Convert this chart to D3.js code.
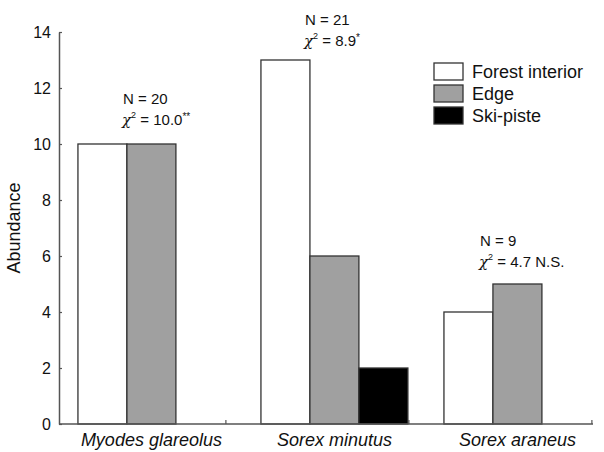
<!DOCTYPE html>
<html>
<head>
<meta charset="utf-8">
<script src="https://cdn.jsdelivr.net/npm/d3@7"></script>
<style>
  body { margin: 0; background: #fff; }
  svg { display: block; font-family: Arial, "Liberation Sans", sans-serif; }
</style>
</head>
<body>
<svg width="604" height="452"></svg>
<script>
// data
var species = ["Myodes glareolus", "Sorex minutus", "Sorex araneus"];
var habitats = ["Forest interior", "Edge", "Ski-piste"];
var forestInterior = [10, 13, 4];
var edge = [10, 6, 5];
var skiPiste = [0, 2, 0];
var nLabels = ["N = 20", "N = 21", "N = 9"];
var chiValues = ["10.0", "8.9", "4.7"];
var chiMarks = ["**", "*", " N.S."];
var yTicks = [0, 2, 4, 6, 8, 10, 12, 14];

var colors = { "Forest interior": "#ffffff", "Edge": "#a0a0a0", "Ski-piste": "#000000" };

var svg = d3.select("svg");

var x0 = 59, x1 = 593, yTop = 32, yBot = 424;

var y = d3.scaleLinear().domain([0, 14]).range([yBot, yTop]);

var x = d3.scaleBand()
    .domain(species)
    .range([x0, x1])
    .paddingInner(0.197)
    .paddingOuter(0.0575)
    .align(0.9);

var xSub = d3.scaleBand()
    .domain(habitats)
    .range([0, x.bandwidth()]);

// build rows from the arrays
var rows = species.map(function(s, i) {
  return {
    species: s,
    values: [
      { key: "Forest interior", value: forestInterior[i] },
      { key: "Edge", value: edge[i] },
      { key: "Ski-piste", value: skiPiste[i] }
    ]
  };
});

//////////// BARS ////////////
var groups = svg.append("g").selectAll("g")
  .data(rows)
  .enter().append("g")
    .attr("transform", function(d) { return "translate(" + x(d.species) + ",0)"; });

groups.selectAll("rect")
  .data(function(d) { return d.values.filter(function(v) { return v.value > 0; }); })
  .enter().append("rect")
    .attr("x", function(d) { return xSub(d.key); })
    .attr("y", function(d) { return y(d.value); })
    .attr("width", xSub.bandwidth())
    .attr("height", function(d) { return y(0) - y(d.value); })
    .attr("fill", function(d) { return colors[d.key]; })
    .attr("stroke", "#333")
    .attr("stroke-width", 1.3);

//////////// AXES ////////////
var yAxis = d3.axisLeft(y)
    .tickValues(yTicks)
    .tickSizeInner(-3)
    .tickSizeOuter(0)
    .tickPadding(8);

var gy = svg.append("g")
    .attr("transform", "translate(" + x0 + ",0)")
    .call(yAxis);
gy.select(".domain").attr("stroke", "#555").attr("stroke-width", 1.5);
gy.selectAll(".tick line").attr("stroke", "#555").attr("stroke-width", 1.2);
gy.selectAll(".tick text")
    .attr("font-size", 16)
    .attr("fill", "#111")
    .attr("font-family", "Arial, 'Liberation Sans', sans-serif");

// x axis baseline
svg.append("line")
    .attr("x1", x0).attr("x2", x1)
    .attr("y1", y(0)).attr("y2", y(0))
    .attr("stroke", "#555")
    .attr("stroke-width", 1.5);

// group boundary ticks (point up)
svg.append("g").selectAll("line")
  .data(species)
  .enter().append("line")
    .attr("x1", function(d) { return x(d) + x.bandwidth() + 1; })
    .attr("x2", function(d) { return x(d) + x.bandwidth() + 1; })
    .attr("y1", y(0))
    .attr("y2", y(0) - 4)
    .attr("stroke", "#555")
    .attr("stroke-width", 1.2);

// category labels
svg.append("g").selectAll("text")
  .data(species)
  .enter().append("text")
    .attr("x", function(d) { return x(d) + x.bandwidth() / 2; })
    .attr("y", 446)
    .attr("text-anchor", "middle")
    .attr("font-size", 18)
    .attr("font-style", "italic")
    .attr("fill", "#111")
    .text(function(d) { return d; });

// y title
svg.append("text")
    .attr("transform", "translate(20," + ((yTop + yBot) / 2) + ") rotate(-90)")
    .attr("text-anchor", "middle")
    .attr("font-size", 18)
    .attr("fill", "#111")
    .text("Abundance");

//////////// ANNOTATIONS ////////////
var annoX = [123, 305, 480];
var annoY = [104, 25, 246];

species.forEach(function(s, i) {
  var g = svg.append("g")
      .attr("transform", "translate(" + annoX[i] + "," + annoY[i] + ")")
      .attr("font-size", 15)
      .attr("fill", "#111");
  g.append("text").attr("x", 0).attr("y", 0).text(nLabels[i]);
  var t = g.append("text").attr("x", -1).attr("y", 21);
  t.append("tspan").attr("font-style", "italic").attr("font-family", "'DejaVu Serif', serif").text("χ");
  t.append("tspan").attr("font-size", 9).attr("dy", -7).text("2");
  t.append("tspan").attr("dy", 7).text(" = " + chiValues[i]);
  if (chiMarks[i].indexOf("*") >= 0) {
    t.append("tspan").attr("font-size", 10).attr("dy", -5).text(chiMarks[i]);
  } else {
    t.append("tspan").text(chiMarks[i]);
  }
});

//////////// LEGEND ////////////
var legend = svg.append("g").selectAll("g")
  .data(habitats)
  .enter().append("g")
    .attr("transform", function(d, i) { return "translate(434," + (63 + i * 22) + ")"; });

legend.append("rect")
    .attr("width", 29)
    .attr("height", 17)
    .attr("fill", function(d) { return colors[d]; })
    .attr("stroke", "#333")
    .attr("stroke-width", 1.3);

legend.append("text")
    .attr("x", 38)
    .attr("y", 15)
    .attr("font-size", 18)
    .attr("fill", "#111")
    .text(function(d) { return d; });
</script>
</body>
</html>
